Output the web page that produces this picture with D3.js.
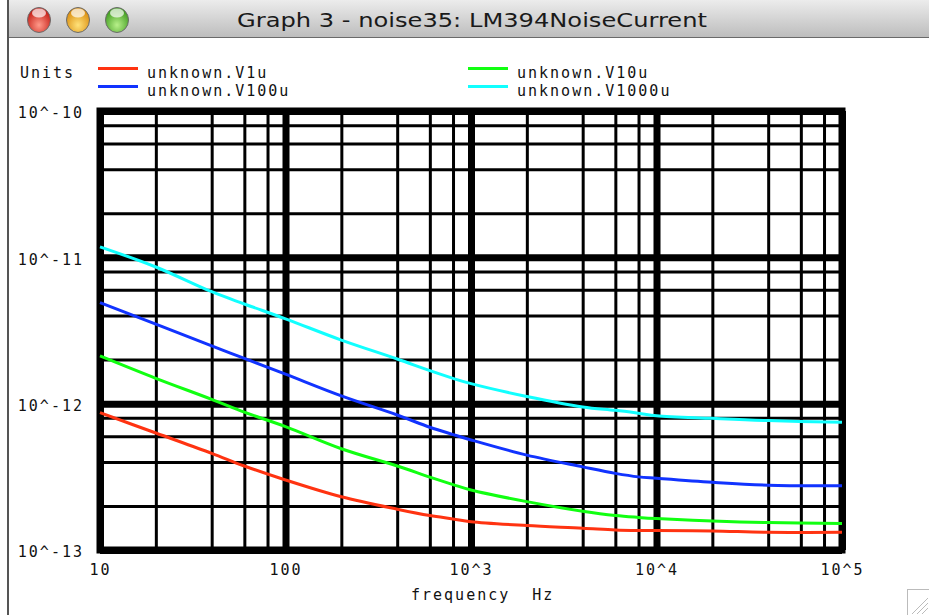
<!DOCTYPE html>
<html>
<head>
<meta charset="utf-8">
<script src="https://cdn.jsdelivr.net/npm/d3@7"></script>
<style>
  html, body { margin: 0; padding: 0; background: #fff; }
  svg { display: block; }
  .mono { font-family: "DejaVu Sans Mono", monospace; font-size: 15px; letter-spacing: 2px; fill: #111; }
</style>
</head>
<body>
<div id="chart"></div>
<script>
// frequency points (Hz)
const freqs = [10, 20, 40, 60, 100, 200, 400, 600, 800, 1000, 2000, 4000, 6000, 8000, 10000, 20000, 40000, 100000];

// noise current per series
const v1u = [8.68e-13, 6.3e-13, 4.58e-13, 3.75e-13, 3.01e-13, 2.31e-13, 1.9e-13, 1.72e-13, 1.63e-13, 1.56e-13,
  1.47e-13, 1.41e-13, 1.37e-13, 1.36e-13, 1.36e-13, 1.35e-13, 1.32e-13, 1.32e-13];
const v10u = [2.12e-12, 1.49e-12, 1.07e-12, 8.75e-13, 6.97e-13, 4.92e-13, 3.75e-13, 3.15e-13, 2.8e-13, 2.57e-13,
  2.14e-13, 1.84e-13, 1.72e-13, 1.67e-13, 1.64e-13, 1.58e-13, 1.54e-13, 1.52e-13];
const v100u = [4.9e-12, 3.5e-12, 2.48e-12, 2.04e-12, 1.59e-12, 1.13e-12, 8.37e-13, 6.9e-13, 6.15e-13, 5.65e-13,
  4.45e-13, 3.7e-13, 3.34e-13, 3.16e-13, 3.09e-13, 2.9e-13, 2.77e-13, 2.75e-13];
const v1000u = [1.18e-11, 8.59e-12, 5.82e-12, 4.8e-12, 3.8e-12, 2.72e-12, 2.02e-12, 1.68e-12, 1.49e-12, 1.37e-12,
  1.12e-12, 9.5e-13, 9.0e-13, 8.6e-13, 8.28e-13, 7.94e-13, 7.66e-13, 7.46e-13];

const seriesNames = ['unknown.V1u', 'unknown.V10u', 'unknown.V100u', 'unknown.V1000u'];
const seriesValues = [v1u, v10u, v100u, v1000u];
const seriesColors = ['#ff3311', '#11ff11', '#1133ff', '#11ffff'];

const xTickVals = [10, 100, 1e3, 1e4, 1e5];
const xTickLabels = ['10', '100', '10^3', '10^4', '10^5'];
const yTickVals = [1e-10, 1e-11, 1e-12, 1e-13];
const yTickLabels = ['10^-10', '10^-11', '10^-12', '10^-13'];
const minorSteps = [2, 4, 6, 8];

const W = 929, H = 615;
const plot = { left: 100, right: 842, top: 111, bottom: 550 };

const svg = d3.select('#chart').append('svg')
  .attr('width', W).attr('height', H);

const defs = svg.append('defs');
const tb = defs.append('linearGradient').attr('id', 'titlebar')
  .attr('x1', 0).attr('y1', 0).attr('x2', 0).attr('y2', 1);
tb.append('stop').attr('offset', '0%').attr('stop-color', '#ececec');
tb.append('stop').attr('offset', '100%').attr('stop-color', '#bdbdbd');

function buttonGrad(id, light, dark) {
  const g = defs.append('radialGradient').attr('id', id)
    .attr('cx', '50%').attr('cy', '70%').attr('r', '65%');
  g.append('stop').attr('offset', '0%').attr('stop-color', light);
  g.append('stop').attr('offset', '100%').attr('stop-color', dark);
}
buttonGrad('btnRed', '#ff9a8a', '#c41a12');
buttonGrad('btnOrange', '#ffe27a', '#d98a0a');
buttonGrad('btnGreen', '#b8f08a', '#3d9a1c');

// window chrome
svg.append('rect').attr('x', 9).attr('y', 0).attr('width', W - 9).attr('height', 37)
  .attr('fill', 'url(#titlebar)');
svg.append('line').attr('x1', 9).attr('x2', W).attr('y1', 37.5).attr('y2', 37.5)
  .attr('stroke', '#6a6a6a').attr('stroke-width', 1);
svg.append('line').attr('x1', 8).attr('x2', 8).attr('y1', 0).attr('y2', H)
  .attr('stroke', '#555').attr('stroke-width', 2);

[['btnRed', 39], ['btnOrange', 78], ['btnGreen', 117]].forEach(([id, cx]) => {
  svg.append('ellipse').attr('cx', cx).attr('cy', 20).attr('rx', 11.5).attr('ry', 12.5)
    .attr('fill', `url(#${id})`).attr('stroke', '#6b6b6b').attr('stroke-width', 1);
  svg.append('ellipse').attr('cx', cx).attr('cy', 13).attr('rx', 7).attr('ry', 4.5)
    .attr('fill', '#fff').attr('opacity', 0.7);
});

svg.append('text')
  .attr('x', 237).attr('y', 27)
  .attr('textLength', 470).attr('lengthAdjust', 'spacingAndGlyphs')
  .style('font-family', '"DejaVu Sans", sans-serif').style('font-size', '20px').style('fill', '#1a1a1a')
  .text('Graph 3 - noise35: LM394NoiseCurrent');

// resize grip
const grip = svg.append('g').attr('stroke', '#bbb').attr('stroke-width', 1);
grip.append('rect').attr('x', 907.5).attr('y', 589.5).attr('width', 22).attr('height', 26).attr('fill', 'none');
[0, 5, 10].forEach((o) => {
  grip.append('line').attr('x1', 912 + o).attr('y1', 614).attr('x2', 928).attr('y2', 598 + o);
});

// scales
const x = d3.scaleLog().domain([10, 1e5]).range([plot.left, plot.right]);
const y = d3.scaleLog().domain([1e-13, 1e-10]).range([plot.bottom, plot.top]);

const minorX = [];
for (let d = 10; d < 1e5; d *= 10) minorSteps.forEach((m) => minorX.push(d * m));
const minorY = [];
for (let d = 1e-13; d < 1e-10 * 0.99; d *= 10) minorSteps.forEach((m) => minorY.push(d * m));

const plotH = plot.bottom - plot.top;
const plotW = plot.right - plot.left;

// grid through axes
function gridX(vals, width) {
  const g = svg.append('g').attr('transform', `translate(0,${plot.bottom})`)
    .call(d3.axisBottom(x).tickValues(vals).tickSize(-plotH).tickFormat(''));
  g.select('.domain').remove();
  g.selectAll('.tick line').attr('stroke', '#000').attr('stroke-width', width);
}
function gridY(vals, width) {
  const g = svg.append('g').attr('transform', `translate(${plot.left},0)`)
    .call(d3.axisLeft(y).tickValues(vals).tickSize(-plotW).tickFormat(''));
  g.select('.domain').remove();
  g.selectAll('.tick line').attr('stroke', '#000').attr('stroke-width', width);
}
gridX(minorX, 3);
gridY(minorY, 3);
gridX(xTickVals, 7);
gridY(yTickVals, 7);

svg.append('rect')
  .attr('x', plot.left).attr('y', plot.top)
  .attr('width', plotW).attr('height', plotH)
  .attr('fill', 'none').attr('stroke', '#000').attr('stroke-width', 7);

// tick labels
const xAxis = svg.append('g').attr('transform', `translate(0,${plot.bottom})`)
  .call(d3.axisBottom(x).tickValues(xTickVals).tickSize(0).tickPadding(14)
    .tickFormat((d, i) => xTickLabels[i]));
xAxis.select('.domain').remove();
xAxis.selectAll('text').attr('class', 'mono').attr('fill', null);

const yAxis = svg.append('g').attr('transform', `translate(${plot.left},0)`)
  .call(d3.axisLeft(y).tickValues(yTickVals).tickSize(0).tickPadding(16)
    .tickFormat((d, i) => yTickLabels[i]));
yAxis.select('.domain').remove();
yAxis.selectAll('text').attr('class', 'mono').attr('fill', null).attr('dy', '0.45em');

svg.append('text').attr('class', 'mono')
  .attr('x', 411).attr('y', 600)
  .attr('xml:space', 'preserve').style('white-space', 'pre')
  .text('frequency  Hz');

// curves
const line = d3.line()
  .x((d) => x(d[0]))
  .y((d) => y(d[1]))
  .curve(d3.curveCatmullRom.alpha(0.5));

seriesValues.forEach((vals, i) => {
  svg.append('path')
    .datum(freqs.map((f, k) => [f, vals[k]]))
    .attr('d', line)
    .attr('fill', 'none')
    .attr('stroke', seriesColors[i])
    .attr('stroke-width', 3);
});

// legend
svg.append('text').attr('class', 'mono').attr('x', 20).attr('y', 78).text('Units');
const legendPos = [[98, 68.5], [468, 68.5], [98, 86.5], [468, 86.5]];
seriesNames.forEach((name, i) => {
  const [lx, ly] = legendPos[i];
  svg.append('line')
    .attr('x1', lx).attr('x2', lx + 40).attr('y1', ly).attr('y2', ly)
    .attr('stroke', seriesColors[i]).attr('stroke-width', 3);
  svg.append('text').attr('class', 'mono')
    .attr('x', lx + 49).attr('y', ly + 9)
    .text(name);
});
</script>
</body>
</html>
